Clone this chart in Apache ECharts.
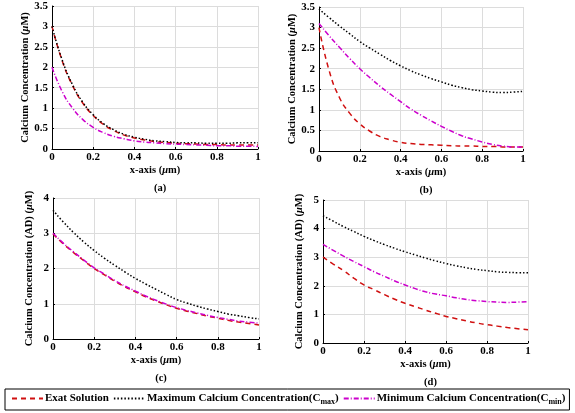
<!DOCTYPE html>
<html>
<head>
<meta charset="utf-8">
<script src="https://cdn.jsdelivr.net/npm/echarts@6/dist/echarts.min.js"></script>
<style>
  html, body { margin: 0; padding: 0; background: #fff; }
  #chart { width: 575px; height: 413px; }
</style>
</head>
<body>
<div id="chart"></div>
<script>
// x positions (μm)
var xs = [0, 0.05, 0.1, 0.15, 0.2, 0.25, 0.3, 0.35, 0.4, 0.45, 0.5, 0.55, 0.6, 0.65, 0.7, 0.75, 0.8, 0.85, 0.9, 0.95, 1];

// panel (a)
var exactA = [3.0, 2.15, 1.55, 1.12, 0.82, 0.6, 0.45, 0.34, 0.27, 0.22, 0.18, 0.16, 0.14, 0.13, 0.12, 0.11, 0.11, 0.1, 0.1, 0.1, 0.1];
var maxA = [3.0, 2.17, 1.57, 1.14, 0.84, 0.62, 0.47, 0.36, 0.29, 0.24, 0.2, 0.18, 0.16, 0.15, 0.15, 0.14, 0.14, 0.14, 0.15, 0.15, 0.15];
var minA = [2.0, 1.4, 1.0, 0.72, 0.53, 0.4, 0.31, 0.25, 0.2, 0.17, 0.15, 0.13, 0.12, 0.11, 0.1, 0.09, 0.08, 0.08, 0.07, 0.07, 0.06];

// panel (b)
var exactB = [3.0, 1.95, 1.3, 0.92, 0.66, 0.48, 0.35, 0.27, 0.21, 0.18, 0.16, 0.15, 0.14, 0.13, 0.12, 0.12, 0.11, 0.11, 0.1, 0.1, 0.1];
var maxB = [3.45, 3.24, 3.04, 2.85, 2.66, 2.5, 2.35, 2.2, 2.07, 1.95, 1.85, 1.76, 1.68, 1.6, 1.54, 1.49, 1.46, 1.43, 1.42, 1.43, 1.45];
var minB = [3.1, 2.8, 2.52, 2.25, 2.0, 1.78, 1.57, 1.38, 1.2, 1.02, 0.87, 0.73, 0.6, 0.48, 0.37, 0.29, 0.22, 0.16, 0.12, 0.1, 0.1];

// panel (c)
var exactC = [2.98, 2.7, 2.45, 2.22, 2.0, 1.82, 1.64, 1.48, 1.34, 1.2, 1.08, 0.97, 0.87, 0.79, 0.72, 0.65, 0.59, 0.53, 0.48, 0.44, 0.4];
var maxC = [3.65, 3.32, 3.02, 2.75, 2.51, 2.29, 2.09, 1.9, 1.72, 1.56, 1.41, 1.26, 1.12, 1.02, 0.93, 0.85, 0.78, 0.71, 0.66, 0.61, 0.57];
var minC = [3.0, 2.72, 2.47, 2.24, 2.02, 1.84, 1.66, 1.5, 1.36, 1.22, 1.1, 0.99, 0.89, 0.81, 0.74, 0.67, 0.61, 0.56, 0.51, 0.48, 0.45];

// panel (d)
var exactD = [3.0, 2.76, 2.53, 2.27, 2.03, 1.86, 1.69, 1.53, 1.39, 1.27, 1.15, 1.04, 0.93, 0.85, 0.77, 0.7, 0.64, 0.59, 0.54, 0.5, 0.46];
var maxD = [4.45, 4.26, 4.07, 3.9, 3.73, 3.58, 3.44, 3.31, 3.19, 3.08, 2.97, 2.87, 2.78, 2.7, 2.63, 2.57, 2.53, 2.49, 2.47, 2.46, 2.46];
var minD = [3.45, 3.24, 3.04, 2.85, 2.67, 2.49, 2.33, 2.17, 2.03, 1.9, 1.79, 1.71, 1.65, 1.58, 1.52, 1.48, 1.45, 1.43, 1.42, 1.43, 1.45];

var xTicks = [0, 0.2, 0.4, 0.6, 0.8, 1];
var yMaxes = [3.5, 3.5, 4, 5];
var yIntervals = [0.5, 0.5, 1, 1];
var yNames = ['Calcium Concentration ({i|μ}M)', 'Calcium Concentration ({i|μ}M)',
              'Calcium Concentration (AD) ({i|μ}M)', 'Calcium Concentration (AD) ({i|μ}M)'];
var captions = ['(a)', '(b)', '(c)', '(d)'];

var nameExact = 'Exat Solution';
var nameMax = 'Maximum Calcium Concentration(Cmax)';
var nameMin = 'Minimum Calcium Concentration(Cmin)';

var panels = [[exactA, maxA, minA], [exactB, maxB, minB], [exactC, maxC, minC], [exactD, maxD, minD]];

var font = 'Liberation Serif';
var grids = [
  { left: 52, top: 6, width: 206, height: 143 },
  { left: 319, top: 7, width: 204, height: 144 },
  { left: 53, top: 198, width: 206, height: 141 },
  { left: 323, top: 200, width: 205, height: 143 }
];

function pairs(ys) {
  var out = [];
  for (var i = 0; i < xs.length; i++) out.push([xs[i], ys[i]]);
  return out;
}

var xAxes = [], yAxes = [], series = [], titles = [];
for (var p = 0; p < 4; p++) {
  xAxes.push({
    type: 'value', gridIndex: p, min: 0, max: 1, interval: 0.2,
    name: 'x-axis ({i|μ}m)', nameLocation: 'middle', nameGap: 16,
    nameTextStyle: { fontFamily: font, fontWeight: 'bold', fontSize: 10.5, color: '#000',
      rich: { i: { fontFamily: font, fontStyle: 'italic', fontWeight: 'bold', fontSize: 10.5 } } },
    axisLine: { lineStyle: { color: '#000', width: 1 } },
    axisTick: { inside: true, length: 2, lineStyle: { color: '#000' } },
    axisLabel: { fontFamily: font, fontWeight: 'bold', fontSize: 11, color: '#000', margin: 3,
      formatter: function (v) { return xTicks.indexOf(v) >= 0 ? String(v) : ''; } },
    splitLine: { show: true, lineStyle: { color: '#dcdcdc', width: 1 } }
  });
  yAxes.push({
    type: 'value', gridIndex: p, min: 0, max: yMaxes[p], interval: yIntervals[p],
    name: yNames[p], nameLocation: 'middle', nameGap: 18, nameRotate: 90,
    nameTextStyle: { fontFamily: font, fontWeight: 'bold', fontSize: 10.5, color: '#000',
      rich: { i: { fontFamily: font, fontStyle: 'italic', fontWeight: 'bold', fontSize: 10.5 } } },
    axisLine: { show: true, lineStyle: { color: '#000', width: 1 } },
    axisTick: { show: true, inside: true, length: 2, lineStyle: { color: '#000' } },
    axisLabel: { fontFamily: font, fontWeight: 'bold', fontSize: 11, color: '#000', margin: 4 },
    splitLine: { show: true, lineStyle: { color: '#dcdcdc', width: 1 } }
  });
  var g = grids[p];
  titles.push({
    text: captions[p], left: g.left + g.width / 2, top: g.top + g.height + 29, textAlign: 'center',
    textStyle: { fontFamily: font, fontWeight: 'bold', fontSize: 10.5, color: '#000' }
  });
  var d = panels[p];
  series.push({
    name: nameExact, type: 'line', xAxisIndex: p, yAxisIndex: p, data: pairs(d[0]),
    smooth: true, symbol: 'none', z: 3,
    lineStyle: { color: '#d01010', width: 1.5, type: [5, 4] }, itemStyle: { color: '#d01010' }
  });
  series.push({
    name: nameMax, type: 'line', xAxisIndex: p, yAxisIndex: p, data: pairs(d[1]),
    smooth: true, symbol: 'none', z: 4,
    lineStyle: { color: '#000', width: 1.5, type: [1.5, 2] }, itemStyle: { color: '#000' }
  });
  series.push({
    name: nameMin, type: 'line', xAxisIndex: p, yAxisIndex: p, data: pairs(d[2]),
    smooth: true, symbol: 'none', z: 5,
    lineStyle: { color: '#cc00cc', width: 1.5, type: [5, 2, 1, 2] }, itemStyle: { color: '#cc00cc' }
  });
}

var chart = echarts.init(document.getElementById('chart'));
chart.setOption({
  backgroundColor: '#fff',
  animation: false,
  title: titles,
  grid: grids,
  xAxis: xAxes,
  yAxis: yAxes,
  series: series,
  legend: {
    data: [nameExact, nameMax, nameMin],
    orient: 'horizontal', left: 5, top: 389, width: 575,
    borderColor: '#000', borderWidth: 1, padding: [4, 4, 4, 6],
    itemWidth: 31, itemHeight: 10, itemGap: 4,
    itemStyle: { opacity: 0 },
    textStyle: { fontFamily: font, fontWeight: 'bold', fontSize: 11, color: '#000', padding: [0, 0, 0, -3],
      rich: { sub: { fontFamily: font, fontWeight: 'bold', fontSize: 8, padding: [7, 0, 0, 0] } } },
    formatter: function (n) {
      if (n === nameMax) return 'Maximum Calcium Concentration(C{sub|max})';
      if (n === nameMin) return 'Minimum Calcium Concentration(C{sub|min})';
      return n;
    }
  }
});
</script>
</body>
</html>
